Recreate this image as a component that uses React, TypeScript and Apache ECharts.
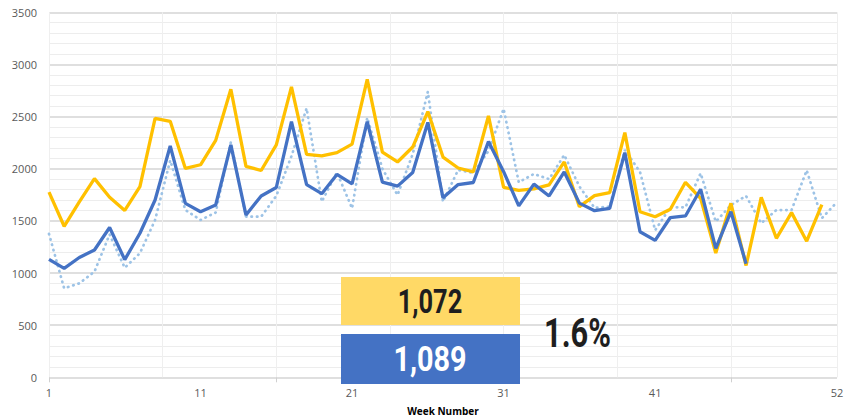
import React, { useEffect, useRef } from "react";
import * as echarts from "echarts";

// Yellow: current weekly values (weeks 1-52)
const currentYear = [
  1775, 1448, 1682, 1905, 1726, 1600, 1828, 2483, 2455, 2003,
  2038, 2272, 2762, 2023, 1983, 2228, 2785, 2138, 2123, 2154,
  2236, 2857, 2160, 2065, 2208, 2548, 2112, 2007, 1970, 2506,
  1822, 1792, 1806, 1846, 2065, 1636, 1742, 1771, 2346, 1588,
  1540, 1611, 1870, 1716, 1192, 1668, 1072, 1726, 1333, 1579,
  1305, 1655,
];

// Blue solid: comparison weekly values (weeks 1-47)
const comparison = [
  1131, 1045, 1149, 1221, 1436, 1128, 1381, 1700, 2218, 1668,
  1588, 1652, 2228, 1556, 1739, 1820, 2451, 1847, 1761, 1945,
  1854, 2451, 1872, 1833, 1964, 2444, 1721, 1848, 1868, 2260,
  1972, 1644, 1852, 1739, 1969, 1670, 1598, 1620, 2154, 1396,
  1313, 1532, 1547, 1803, 1237, 1588, 1089,
];

// Light-blue dotted: reference weekly values (weeks 1-53)
const reference = [
  1375, 853, 901, 1013, 1370, 1050, 1190, 1508, 2080, 1604,
  1508, 1580, 2255, 1540, 1540, 1740, 2120, 2580, 1684, 1965,
  1620, 2490, 2000, 1748, 2140, 2739, 1684, 1988, 1960, 2170,
  2575, 1870, 1950, 1900, 2132, 1830, 1625, 1636, 2180, 1970,
  1410, 1630, 1630, 1956, 1492, 1652, 1739, 1477, 1604, 1604,
  1985, 1525, 1680,
];

const xTickValues = [1, 11, 21, 31, 41, 53];
const xTickLabels = ["1", "11", "21", "31", "41", "52"];
const xMarkTicks = [1, 16, 31, 46];

const highlightWeek = 47;

const bigFont = "Roboto, 'Liberation Sans', sans-serif";

export default function App() {
  const ref = useRef<HTMLDivElement>(null);

  useEffect(() => {
    document.body.style.margin = "0";
    const chart = echarts.init(ref.current as HTMLDivElement, null, { renderer: "svg" });
    const toPairs = (arr: number[]) => arr.map((v, i) => [i + 1, v]);

    const yellowVal = currentYear[highlightWeek - 1];
    const blueVal = comparison[highlightWeek - 1];
    const pct = (((blueVal - yellowVal) / yellowVal) * 100).toFixed(1) + "%";
    const fmt = (n: number) => n.toLocaleString("en-US");

    const option: any = {
      animation: false,
      grid: {
        left: 49,
        right: 12,
        top: 12.3,
        bottom: 42.7,
        containLabel: false,
        outerBoundsMode: "none",
      },
      xAxis: [
        {
          type: "value",
          min: 1,
          max: 53,
          position: "bottom",
          axisLine: { show: false },
          axisTick: {
            show: true,
            customValues: xMarkTicks,
            length: 5,
            lineStyle: { color: "#d0d0d0" },
          },
          axisLabel: {
            customValues: xTickValues,
            formatter: (v: number) => {
              const i = xTickValues.indexOf(v);
              return i >= 0 ? xTickLabels[i] : "";
            },
            color: "#595959",
            fontSize: 11,
            fontFamily: "Open Sans",
            margin: 10,
          },
          splitLine: { show: false },
          name: "Week Number",
          nameLocation: "middle",
          nameGap: 29,
          nameTextStyle: {
            color: "#000",
            fontWeight: "bold",
            fontSize: 10,
            fontFamily: "Open Sans",
          },
        },
        {
          type: "value",
          min: 1,
          max: 53,
          interval: 7.5,
          position: "bottom",
          axisLine: { show: false },
          axisTick: { show: false },
          axisLabel: { show: false },
          splitLine: { show: true, lineStyle: { color: "#efefef", width: 1 } },
        },
      ],
      yAxis: {
        type: "value",
        min: 0,
        max: 3500,
        interval: 500,
        axisLine: { show: false },
        axisTick: { show: false },
        axisLabel: {
          color: "#595959",
          fontSize: 11,
          fontFamily: "Open Sans",
          margin: 12,
          formatter: (v: number) => String(v),
        },
        splitLine: { show: true, lineStyle: { color: "#d4d4d4", width: 1.5 } },
        minorTick: { show: false, splitNumber: 5 },
        minorSplitLine: { show: true, lineStyle: { color: "#ededed", width: 1 } },
      },
      series: [
        {
          type: "line",
          xAxisIndex: 0,
          data: toPairs(reference),
          symbol: "none",
          silent: true,
          lineStyle: { color: "#9DC3E6", width: 2.7, type: [0.5, 5], cap: "round" },
          z: 1,
        },
        {
          type: "line",
          xAxisIndex: 0,
          data: toPairs(currentYear),
          symbol: "none",
          silent: true,
          lineStyle: { color: "#FFC000", width: 3.3 },
          z: 2,
        },
        {
          type: "line",
          xAxisIndex: 0,
          data: toPairs(comparison),
          symbol: "none",
          silent: true,
          lineStyle: { color: "#4472C4", width: 3.3 },
          z: 3,
        },
      ],
      graphic: [
        {
          type: "rect",
          z: 100,
          shape: { x: 341, y: 277, width: 179, height: 48 },
          style: { fill: "#FFD966" },
        },
        {
          type: "rect",
          z: 100,
          shape: { x: 341, y: 334, width: 179, height: 50 },
          style: { fill: "#4472C4" },
        },
        {
          type: "text",
          z: 101,
          x: 430,
          y: 301.5,
          scaleX: 0.77,
          style: {
            text: fmt(yellowVal),
            fill: "#1e1e1e",
            fontSize: 33,
            fontWeight: "bold",
            fontFamily: bigFont,
            textAlign: "center",
            textVerticalAlign: "middle",
            align: "center",
            verticalAlign: "middle",
          },
        },
        {
          type: "text",
          z: 101,
          x: 430,
          y: 359,
          scaleX: 0.8,
          style: {
            text: fmt(blueVal),
            fill: "#ffffff",
            fontSize: 36,
            fontWeight: "bold",
            fontFamily: bigFont,
            textAlign: "center",
            textVerticalAlign: "middle",
            align: "center",
            verticalAlign: "middle",
          },
        },
        {
          type: "text",
          z: 101,
          x: 577.5,
          y: 333,
          scaleX: 0.75,
          style: {
            text: pct,
            fill: "#1e1e1e",
            fontSize: 41,
            fontWeight: "bold",
            fontFamily: bigFont,
            textAlign: "center",
            textVerticalAlign: "middle",
            align: "center",
            verticalAlign: "middle",
          },
        },
      ],
    };

    chart.setOption(option);
    return () => chart.dispose();
  }, []);

  return <div ref={ref} style={{ width: 849, height: 420 }} />;
}
